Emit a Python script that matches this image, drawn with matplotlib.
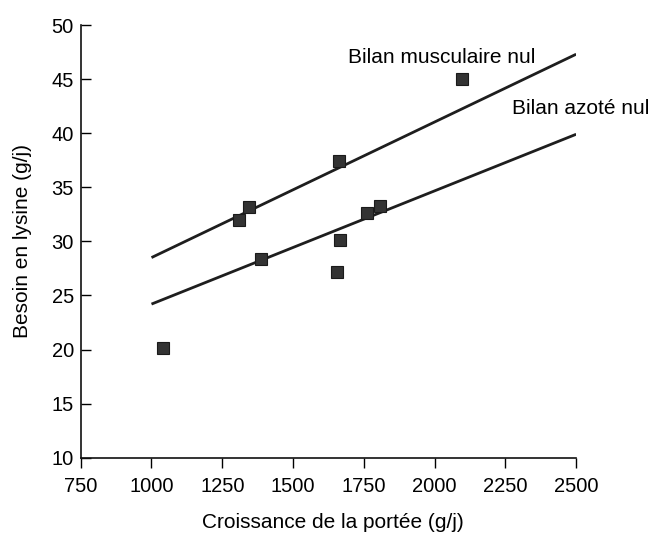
import numpy as np
import matplotlib
matplotlib.use("Agg")
import matplotlib.pyplot as plt

plt.rcParams['font.family'] = ['Liberation Sans', 'DejaVu Sans']

# points mesurés
croissance = [1042, 1310, 1343, 1386, 1656, 1667, 1661, 1760, 1808, 2097]
lysine = [20.1, 32.0, 33.2, 28.4, 27.2, 30.1, 37.4, 32.6, 33.3, 45.0]

# droites de bilan
x_lignes = [1000, 2500]
bilan_musc = [28.5, 47.3]
bilan_azote = [24.2, 39.9]

x_ticks = [750, 1000, 1250, 1500, 1750, 2000, 2250, 2500]
y_ticks = [10, 15, 20, 25, 30, 35, 40, 45, 50]

fig = plt.figure(figsize=(6.51, 5.37), dpi=100)
ax = fig.add_axes([0.124, 0.1477, 0.761, 0.8057])

ax.plot(x_lignes, bilan_musc, color='#1e1e1e', lw=2.0, solid_capstyle='butt', zorder=2)
ax.plot(x_lignes, bilan_azote, color='#1e1e1e', lw=2.0, solid_capstyle='butt', zorder=2)
ax.plot(croissance, lysine, 's', ms=8.8, color='#333333', mec='#1a1a1a', mew=0.8, zorder=3)

ax.text(1695, 47.0, 'Bilan musculaire nul', fontsize=15, ha='left', va='center')
ax.text(2760, 42.3, 'Bilan azoté nul', fontsize=15, ha='right', va='center', clip_on=False)

ax.set_xlim(750, 2500)
ax.set_ylim(10, 50)
ax.set_xticks(x_ticks)
ax.set_yticks(y_ticks)

for s in ['top', 'right']:
    ax.spines[s].set_visible(False)
for s in ['left', 'bottom']:
    ax.spines[s].set_linewidth(1.2)
    ax.spines[s].set_color('#111111')

ax.tick_params(axis='y', direction='in', length=7, width=1.0, pad=5, labelsize=14.5)
ax.tick_params(axis='x', direction='out', length=7, width=1.0, pad=7, labelsize=14.5)

ax.set_xlabel('Croissance de la portée (g/j)', fontsize=15)
ax.set_ylabel('Besoin en lysine (g/j)', fontsize=15)
ax.xaxis.set_label_coords(0.509, -0.128)
ax.yaxis.set_label_coords(-0.098, 0.5)

fig.savefig('out.png', dpi=100)
